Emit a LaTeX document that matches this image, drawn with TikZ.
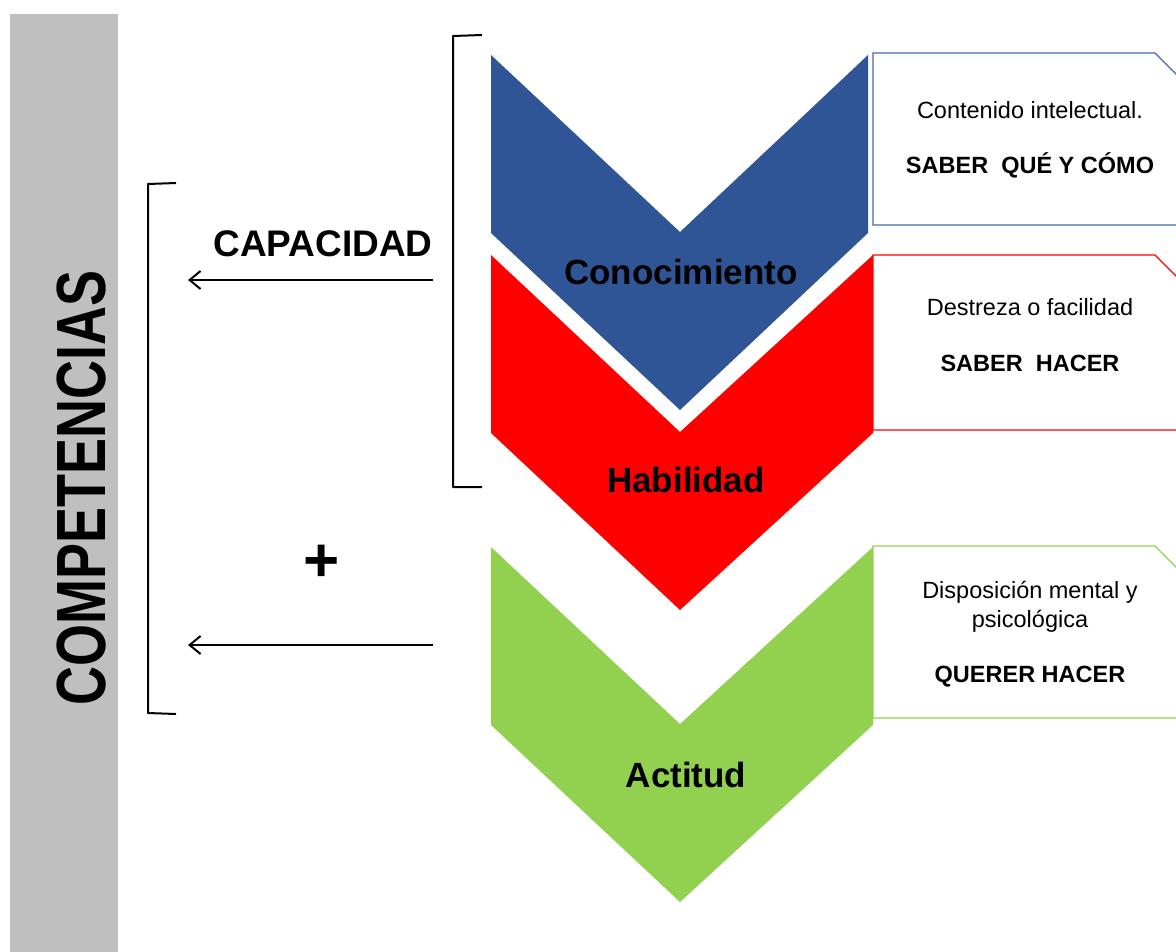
\documentclass[tikz,border=0pt]{standalone}
\usepackage{fontspec}
\setmainfont{Liberation Sans}
\usepackage{tikz}
\usetikzlibrary{arrows.meta}
\usetikzlibrary{positioning}

\definecolor{chevblue}{RGB}{47,85,151}
\definecolor{chevred}{RGB}{255,0,0}
\definecolor{chevgreen}{RGB}{146,208,80}
\definecolor{boxblue}{RGB}{70,105,180}
\definecolor{bargray}{RGB}{191,191,191}

\tikzstyle{chevlabel} =
[
	font=\fontsize{35}{40}\selectfont\bfseries
]
\tikzstyle{boxline} =
[
	font=\fontsize{23.5}{28}\selectfont, inner sep=0pt
]
\tikzstyle{boxbold} =
[
	font=\fontsize{23.5}{28}\selectfont\bfseries, inner sep=0pt
]
\tikzstyle{bracket} =
[
	line width=2pt, line join=round
]
\tikzstyle{backarrow} =
[
	line width=2pt, -{Straight Barb[length=11pt,width=18pt,line width=2pt]}
]

% chevron: colour, top edge y, right edge x
\newcommand{\chevron}[3]{%
	\fill[#1] (491,#2) -- (680,{#2+177}) -- (#3,#2) -- (#3,{#2+178})
		-- (680,{#2+355}) -- (491,{#2+178}) -- cycle;}
% box with cut corner: colour, top y, bottom y
\newcommand{\cutbox}[3]{%
	\filldraw[draw=#1, fill=white, line width=1.3pt] (873,#2) -- (1155,#2)
		-- (1197,{#2+42}) -- (1197,#3) -- (873,#3) -- cycle;}

\begin{document}
\begin{tikzpicture}[x=1pt,y=-1pt]

\useasboundingbox (0,0) rectangle (1176,951);
\clip (0,0) rectangle (1176,951);

% side bar
\fill[bargray] (10,14) rectangle (118,960);
\node[rotate=90, font=\fontsize{54}{60}\selectfont\bfseries] (COMP) at (82,488)
	{\scalebox{1}[1.29]{COMPETENCIAS}};

% chevrons
\chevron{chevblue}{55}{868}
\chevron{chevred}{255}{873}
\chevron{chevgreen}{547}{873}

\node[chevlabel] (K) at (681,272) {Conocimiento};
\node[chevlabel] (H) at (686,480) {Habilidad};
\node[chevlabel] (A) at (686,775) {Actitud};

% boxes
\cutbox{boxblue}{53}{225}
\cutbox{chevred}{255}{430}
\cutbox{chevgreen}{546}{718}

\node[boxline] (K1) at (1030,110) {Contenido intelectual.};
\node[boxbold] (K2) at (1030,165) {SABER\ \ QUÉ Y CÓMO};
\node[boxline] (H1) at (1030,307) {Destreza o facilidad};
\node[boxbold] (H2) at (1030,363) {SABER\ \ HACER};
\node[boxline] (A1) at (1030,592) {Disposición mental y};
\node[boxline] (A2) at (1030,621) {psicológica};
\node[boxbold] (A3) at (1030,677) {QUERER HACER};

% brackets
\draw[bracket] (482,35) -- (453,36) -- (453,487) -- (482,487);
\draw[bracket] (176,183) -- (148,184) -- (148,713) -- (176,714);

% arrows
\coordinate (C1) at (433,280);
\coordinate (C2) at (188,280);
\coordinate (D1) at (433,645);
\coordinate (D2) at (188,645);
\draw[backarrow] (C1) -- (C2);
\draw[backarrow] (D1) -- (D2);

\node[font=\fontsize{37}{42}\selectfont\bfseries] (CAP) at (323,244) {CAPACIDAD};
\node[font=\fontsize{62}{62}\selectfont\bfseries] (PLUS) at (322,563) {+};

\end{tikzpicture}
\end{document}
